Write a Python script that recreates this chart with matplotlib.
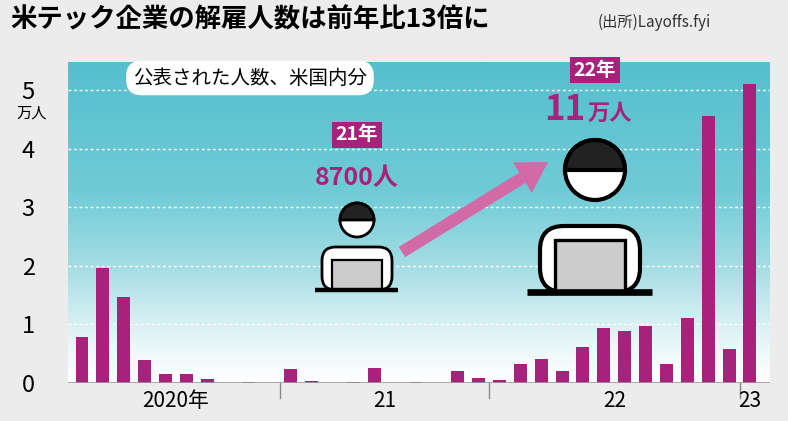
import matplotlib
matplotlib.use("Agg")
import matplotlib.pyplot as plt
import numpy as np
from matplotlib.patches import FancyBboxPatch, Circle, Rectangle, FancyArrow, Wedge
from matplotlib.colors import LinearSegmentedColormap

plt.rcParams['font.family'] = ['Noto Sans CJK JP', 'DejaVu Sans']

values = [0.78, 1.97, 1.46, 0.39, 0.16, 0.15, 0.06, 0.0, 0.02, 0.0,
          0.24, 0.03, 0.0, 0.02, 0.25, 0.0, 0.01, 0.0, 0.20, 0.08,
          0.05, 0.32, 0.41, 0.20, 0.62, 0.94, 0.88, 0.97, 0.33, 1.11, 4.55, 0.58,
          5.10]
year_labels = ["2020年", "21", "22", "23"]
year_starts = [0, 10, 20, 32]
yticks = [0, 1, 2, 3, 4, 5]

W, H = 788, 421
fig = plt.figure(figsize=(W/100, H/100), dpi=100)
fig.patch.set_facecolor("#ececec")
ax = fig.add_axes([68/W, 1-383/H, (770-68)/W, (383-62)/H])
n = len(values)
x = np.arange(n)
ax.set_xlim(-0.67, 32.96)
ax.set_ylim(0, 5.48)

cmap = LinearSegmentedColormap.from_list("bg", [(0, "#ffffff"), (0.12, "#eaf7f9"), (0.35, "#a8dee5"),
                                                (0.6, "#6fcbd6"), (1, "#55bfcd")])
grad = np.linspace(0, 1, 256).reshape(-1, 1)
ax.imshow(grad, extent=[-0.67, 32.96, 0, 5.48], origin="lower", aspect="auto", cmap=cmap, zorder=0)

for yv in yticks[1:]:
    ax.axhline(yv, color="white", lw=1, ls=(0, (2, 2)), zorder=1)
ax.bar(x, values, width=0.62, color="#a8217b", zorder=3)
ax.axhline(0, color="#999999", lw=1.2, zorder=4)

for s in ax.spines.values():
    s.set_visible(False)
ax.set_xticks([])
ax.set_yticks(yticks)
ax.set_yticklabels([str(t) for t in yticks], fontsize=17)
ax.tick_params(axis="y", length=0, pad=24)

ends = year_starts[1:] + [n]
for i, (s, e) in enumerate(zip(year_starts, ends)):
    if i > 0:
        ax.plot([s - 0.5, s - 0.5], [0, -0.25], color="#888888", lw=1, clip_on=False)
    ax.text((s + e - 1) / 2, -0.12, year_labels[i], ha="center", va="top", fontsize=15, clip_on=False)

# overlay in pixel coordinates
ov = fig.add_axes([0, 0, 1, 1])
ov.set_xlim(0, W)
ov.set_ylim(H, 0)
ov.axis("off")

ov.text(32, 113, "万人", fontsize=11, ha="center", va="center")
ov.text(10, 20, "米テック企業の解雇人数は前年比13倍に", fontsize=19, fontweight="bold", va="center")
ov.text(598, 22, "(出所)Layoffs.fyi", fontsize=11, va="center", color="#333333")
ov.text(250, 78, "公表された人数、米国内分", fontsize=14, ha="center", va="center",
        bbox=dict(boxstyle="round,pad=0.35,rounding_size=0.8", fc="white", ec="none"), zorder=6)

mag = "#a8217b"
ov.text(357, 135, "21年", fontsize=14, color="white", fontweight="bold", ha="center", va="center",
        bbox=dict(boxstyle="square,pad=0.2", fc=mag, ec="none"), zorder=6)
ov.text(357, 178, "8700人", fontsize=18, color=mag, fontweight="bold", ha="center", va="center", zorder=6)
ov.text(595, 70, "22年", fontsize=14, color="white", fontweight="bold", ha="center", va="center",
        bbox=dict(boxstyle="square,pad=0.2", fc=mag, ec="none"), zorder=6)
ov.text(585, 110, "11", fontsize=25, color=mag, fontweight="bold", ha="right", va="center", zorder=6)
ov.text(588, 113, "万人", fontsize=16, color=mag, fontweight="bold", ha="left", va="center", zorder=6)

ov.add_patch(FancyArrow(402, 252, 146, -90, width=12, head_width=36, head_length=30,
                        length_includes_head=True, fc="#d36aa8", ec="none", zorder=5))

def person(cx, headcy, r, bx0, bx1, btop, base, lx0, lx1, ltop, l0, l1, lw):
    ov.add_patch(FancyBboxPatch((bx0, btop), bx1 - bx0, base - btop, boxstyle="round,pad=0,rounding_size=%f" % (r*0.8),
                                fc="white", ec="black", lw=lw, zorder=6))
    ov.add_patch(Rectangle((lx0, ltop), lx1 - lx0, base - ltop, fc="#cccccc", ec="black", lw=lw*0.8, zorder=7))
    ov.add_patch(Circle((cx, headcy), r, fc="white", ec="black", lw=lw, zorder=7))
    ov.add_patch(Wedge((cx, headcy), r, 180, 360, fc="#222222", ec="black", lw=lw, zorder=8))
    ov.plot([l0, l1], [base, base], color="black", lw=lw*1.6, zorder=9, solid_capstyle="butt")

person(357, 220, 17, 322, 392, 247, 290, 332, 382, 260, 315, 398, 2)
person(595, 170, 30, 540, 640, 226, 292, 555, 625, 240, 527, 652, 3)

fig.savefig("out.png", dpi=100, facecolor=fig.get_facecolor())
